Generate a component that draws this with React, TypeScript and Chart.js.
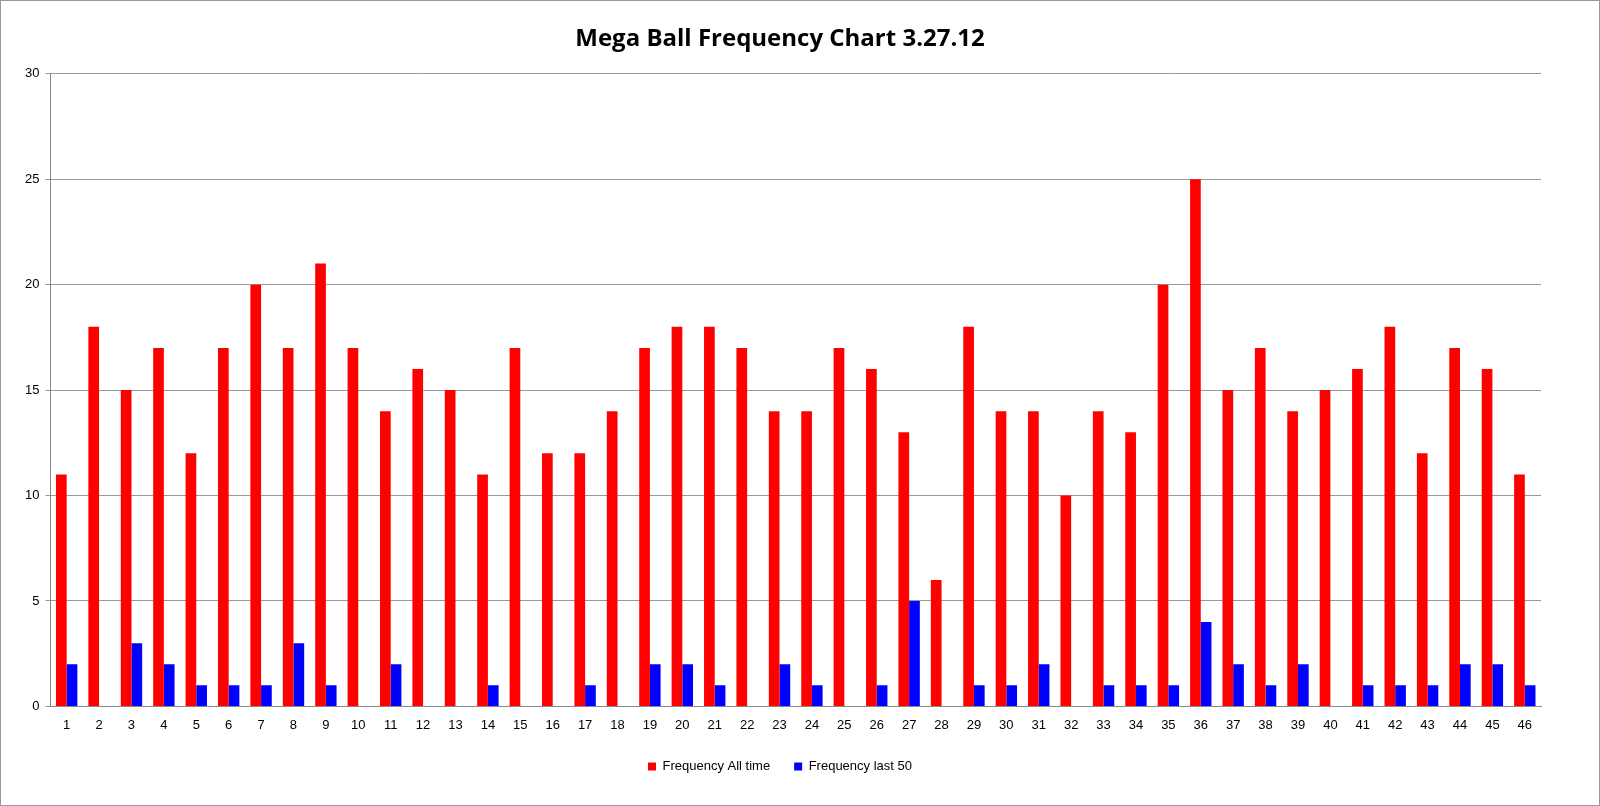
import React, { useEffect, useRef } from "react";
import { Chart, registerables } from "chart.js";
Chart.register(...registerables);

const categories = Array.from({ length: 46 }, (_, i) => String(i + 1));
const allTime = [11,18,15,17,12,17,20,17,21,17,14,16,15,11,17,12,12,14,17,18,18,17,14,14,17,16,13,6,18,14,14,10,14,13,20,25,15,17,14,15,16,18,12,17,16,11];
const last50 = [2,0,3,2,1,1,1,3,1,0,2,0,0,1,0,0,1,0,2,2,1,0,2,1,0,1,5,0,1,1,2,0,1,1,1,4,2,1,2,0,1,1,1,2,2,1];

export default function App() {
  const ref = useRef<HTMLCanvasElement>(null);
  useEffect(() => {
    document.body.style.margin = "0";
    const ch = new Chart(ref.current!, {
      type: "bar",
      data: {
        labels: categories,
        datasets: [
          { label: "Frequency All time", data: allTime, backgroundColor: "#ff0000", categoryPercentage: 0.66, barPercentage: 1 },
          { label: "Frequency last 50", data: last50, backgroundColor: "#0000ff", categoryPercentage: 0.66, barPercentage: 1 },
        ],
      },
      options: {
        animation: false,
        responsive: false,
        layout: { padding: { left: 18, right: 58, top: 6, bottom: 22 } },
        plugins: {
          title: { display: true, text: "Mega Ball Frequency Chart 3.27.12", color: "#000", font: { family: "Open Sans", size: 24, weight: "bold" }, padding: { top: 18, bottom: 20 } },
          legend: { position: "bottom", labels: { color: "#000", boxWidth: 8, boxHeight: 8, font: { family: "Liberation Sans", size: 13 }, padding: 24 } },
          tooltip: { enabled: false },
        },
        scales: {
          x: {
            grid: { display: false },
            border: { color: "#888" },
            ticks: { color: "#000", font: { family: "Liberation Sans", size: 13 }, maxRotation: 0, autoSkip: false },
          },
          y: {
            min: 0, max: 30,
            ticks: { stepSize: 5, color: "#000", font: { family: "Liberation Sans", size: 13 }, padding: 6 },
            grid: { color: "#999", tickLength: 5 },
            border: { color: "#888" },
          },
        },
      },
    });
    return () => ch.destroy();
  }, []);
  return (
    <div style={{ position: "fixed", left: 0, top: 0, width: 1600, height: 806, background: "#fff", border: "1px solid #999", boxSizing: "border-box" }}>
      <canvas ref={ref} width={1598} height={804} />
    </div>
  );
}
